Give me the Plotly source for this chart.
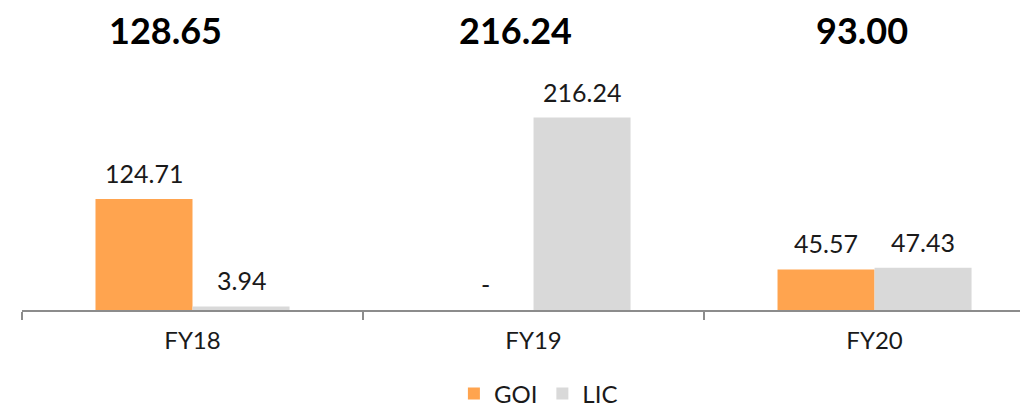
import plotly.graph_objects as go

categories = ["FY18", "FY19", "FY20"]
goi = [124.71, 0, 45.57]
lic = [3.94, 216.24, 47.43]
totals = [128.65, 216.24, 93.00]
total_offsets = [-27, -18, -13]

ORANGE = "#FFA44F"
GRAY = "#D9D9D9"
AXIS = "#8C8C8C"
FONT = "Lato"

fig = go.Figure()
fig.add_bar(x=categories, y=goi, name="GOI", marker=dict(color=ORANGE, line=dict(width=0)))
fig.add_bar(x=categories, y=lic, name="LIC", marker=dict(color=GRAY, line=dict(width=0)))

annotations = []
half = 48.5
for i, c in enumerate(categories):
    for vals, sh in ((goi, -half), (lic, half)):
        v = vals[i]
        annotations.append(dict(
            x=c, y=v, xref="x", yref="y", xshift=sh, yshift=26,
            text=(f"{v:.2f}" if v else "-"), showarrow=False,
            yanchor="middle", font=dict(family=FONT, size=25, color="#1a1a1a")))
    annotations.append(dict(
        x=c, y=1.077, xref="x", yref="paper", xshift=total_offsets[i],
        text=f"<b>{totals[i]:.2f}</b>",
        showarrow=False, yanchor="middle",
        font=dict(family=FONT, size=36, color="#000000")))

fig.update_layout(
    width=1020, height=402,
    margin=dict(l=14, r=0, t=42, b=100, autoexpand=False),
    paper_bgcolor="white", plot_bgcolor="white",
    barmode="group", bargap=0.431, bargroupgap=0,
    showlegend=True,
    legend=dict(orientation="h", xref="container", yref="container",
                x=0.52, xanchor="center", y=0.04, yanchor="middle",
                font=dict(family=FONT, size=24, color="#1a1a1a"), itemwidth=30,
                traceorder="normal"),
    annotations=annotations,
    font=dict(family=FONT),
)
fig.update_xaxes(range=[-0.5, 2.45], showline=True, linecolor=AXIS, linewidth=1.5,
                 ticks="outside", tickson="boundaries", ticklen=8, tickcolor=AXIS,
                 tickwidth=1.5, showgrid=False, automargin=False,
                 tickfont=dict(family=FONT, size=24, color="#1a1a1a"), ticklabelstandoff=8)
fig.update_yaxes(range=[0, 292.1], visible=False, showgrid=False, zeroline=False,
                 automargin=False)

fig.write_html("out.html")
